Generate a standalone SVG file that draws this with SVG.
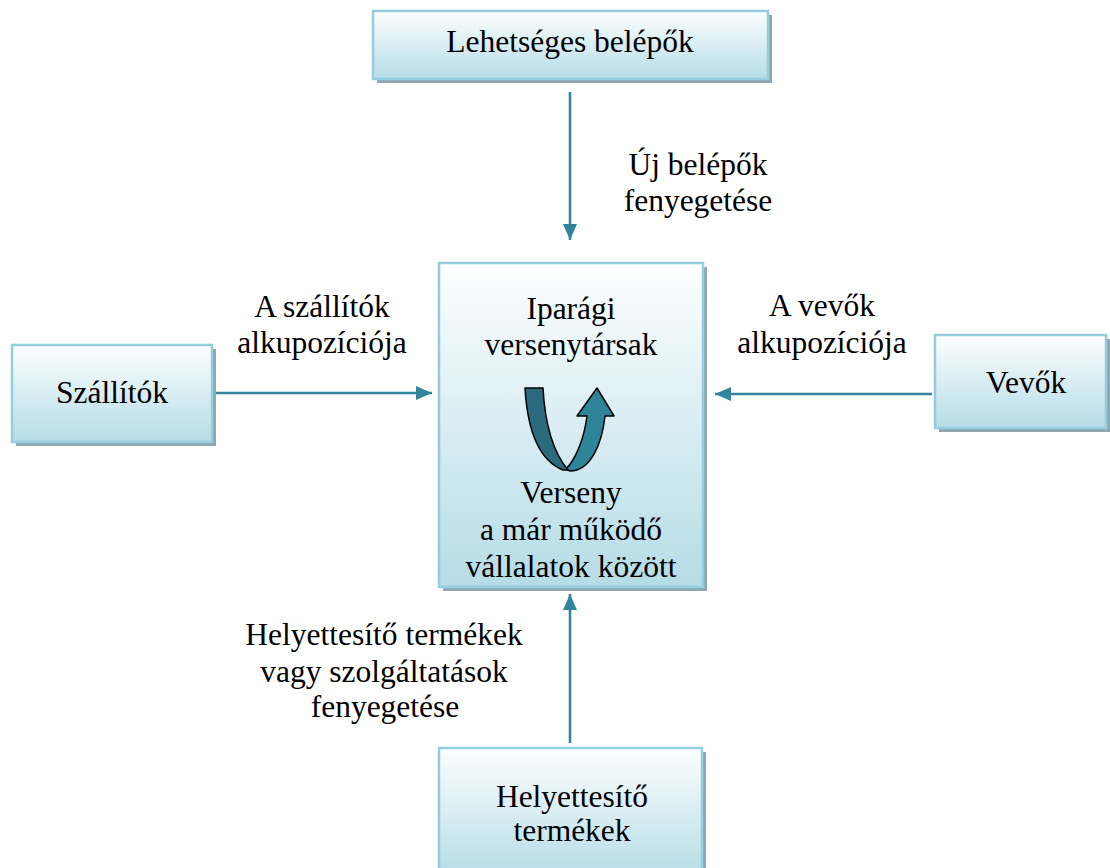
<svg xmlns="http://www.w3.org/2000/svg" width="1110" height="868" viewBox="0 0 1110 868">
<defs>
<linearGradient id="g" x1="0" y1="0" x2="0" y2="1">
<stop offset="0" stop-color="#fdfeff"/>
<stop offset="1" stop-color="#b5dce6"/>
</linearGradient>
<marker id="ah" viewBox="0 0 16 14" refX="16" refY="7" markerWidth="16" markerHeight="14" markerUnits="userSpaceOnUse" orient="auto">
<path d="M0,0 L16,7 L0,14 Z" fill="#31849b"/>
</marker>
</defs>
<style>
.box{fill:url(#g);stroke:#93cfdf;stroke-width:2.5}
.sh{fill:#8fa7b0}
.t{font-family:"Liberation Serif","Times New Roman",serif;font-size:31.5px;fill:#000;text-anchor:middle}
.c{stroke:#31849b;stroke-width:2.6;fill:none;marker-end:url(#ah)}
</style>
<rect width="1110" height="868" fill="#fff"/>
<g id="connectors">
<line class="c" x1="570" y1="92" x2="570" y2="240"/>
<line class="c" x1="215" y1="393" x2="432" y2="393"/>
<line class="c" x1="932" y1="394" x2="715" y2="394"/>
<line class="c" x1="570" y1="743" x2="570" y2="594"/>
</g>
<g id="labels">
<text class="t" x="698" y="175">Új belépők</text>
<text class="t" x="698" y="211">fenyegetése</text>
<text class="t" x="322" y="317">A szállítók</text>
<text class="t" x="322" y="353">alkupozíciója</text>
<text class="t" x="822" y="316">A vevők</text>
<text class="t" x="822" y="353">alkupozíciója</text>
<text class="t" x="384" y="645">Helyettesítő termékek</text>
<text class="t" x="384" y="682">vagy szolgáltatások</text>
<text class="t" x="385" y="717">fenyegetése</text>
</g>
<g id="node-belepok">
<rect class="sh" x="377" y="15" width="395" height="68"/>
<rect class="box" x="373" y="11" width="395" height="68"/>
<text class="t" x="570" y="52">Lehetséges belépők</text>
</g>
<g id="node-szallitok">
<rect class="sh" x="16" y="349" width="200" height="97"/>
<rect class="box" x="12" y="345" width="200" height="97"/>
<text class="t" x="112" y="403">Szállítók</text>
</g>
<g id="node-vevok">
<rect class="sh" x="939" y="339" width="171" height="93"/>
<rect class="box" x="935" y="335" width="171" height="93"/>
<text class="t" x="1026" y="393">Vevők</text>
</g>
<g id="node-helyettesito">
<rect class="sh" x="443" y="752" width="263" height="130"/>
<rect class="box" x="439" y="748" width="263" height="130"/>
<text class="t" x="572" y="807">Helyettesítő</text>
<text class="t" x="572" y="841">termékek</text>
</g>
<g id="node-iparagi">
<rect class="sh" x="443" y="267" width="264" height="324"/>
<rect class="box" x="439" y="263" width="264" height="324"/>
<text class="t" x="571" y="319">Iparági</text>
<text class="t" x="571" y="355">versenytársak</text>
<path d="M566,469 C575,460 584,440 587,416 L577,416 L597,388 L614,416 L605,416 C602,445 590,471 570,471 Z" fill="#2e8499" stroke="#000" stroke-width="1.5" stroke-linejoin="round"/>
<path d="M525,388 L543,388 C545,425 553,452 568,470 L563,470 C543,462 528,440 525,388 Z" fill="#2a6a7c" stroke="#000" stroke-width="1.5" stroke-linejoin="round"/>
<text class="t" x="571" y="503">Verseny</text>
<text class="t" x="571" y="540">a már működő</text>
<text class="t" x="571" y="577">vállalatok között</text>
</g>
</svg>
